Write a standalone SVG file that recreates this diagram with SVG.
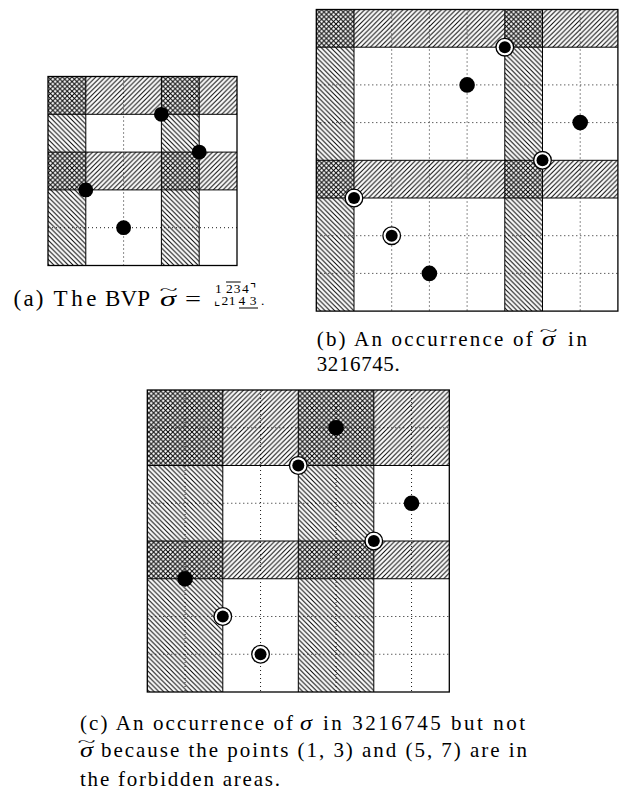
<svg xmlns="http://www.w3.org/2000/svg" width="619" height="796" viewBox="0 0 619 796">
<style>
.bg{fill:#fff}
.dot{stroke:#000;stroke-width:0.9;stroke-dasharray:1 3;fill:none}
.sol{stroke:#000;stroke-width:1;fill:none}
.brd{stroke:#000;stroke-width:1.3;fill:none}
.fw{fill:url(#fw)}
.bk{fill:url(#bk)}
.cap{font-family:"Liberation Serif","DejaVu Serif",serif;fill:#000}
.it{font-style:italic}
.sm{font-size:13.5px}
</style>
<defs>
<pattern id="fw" patternUnits="userSpaceOnUse" width="4.8" height="4.8"><path d="M-1,1 L1,-1 M0,4.8 L4.8,0 M3.8,5.8 L5.8,3.8" stroke="#000" stroke-width="1"/></pattern>
<pattern id="bk" patternUnits="userSpaceOnUse" width="4.8" height="4.8"><path d="M-1,3.8 L1,5.8 M0,0 L4.8,4.8 M3.8,-1 L5.8,1" stroke="#000" stroke-width="1"/></pattern>
<g id="p"><circle r="7.8" fill="#000"/></g>
<g id="pa"><circle r="7.4" fill="#000"/></g>
<g id="cp"><circle r="8.8" fill="#fff" stroke="#000" stroke-width="1.3"/><circle r="6" fill="#000"/></g>
</defs>
<rect width="619" height="796" fill="#fff"/>

<!-- (a) -->
<g id="fig-a">
<rect class="bg" x="48" y="76.5" width="189" height="189"/>
<path class="dot" d="M123.6,76.5 V265.5 M48,227.7 H237"/>
<rect class="bk" x="48" y="76.5" width="37.8" height="189"/>
<rect class="bk" x="161.4" y="76.5" width="37.8" height="189"/>
<rect class="fw" x="48" y="76.5" width="189" height="37.8"/>
<rect class="fw" x="48" y="152.1" width="189" height="37.8"/>
<path class="sol" d="M85.8,76.5 V265.5 M161.4,76.5 V265.5 M199.2,76.5 V265.5 M48,114.3 H237 M48,152.1 H237 M48,189.9 H237"/>
<rect class="brd" x="48" y="76.5" width="189" height="189"/>
<g id="a-points">
<use href="#pa" x="85.8" y="189.9"/>
<use href="#pa" x="123.6" y="227.7"/>
<use href="#pa" x="161.4" y="114.3"/>
<use href="#pa" x="199.2" y="152.1"/>
</g>
</g>

<!-- (b) -->
<g id="fig-b">
<rect class="bg" x="316.3" y="9.5" width="301.6" height="301.6"/>
<path class="dot" d="M391.7,9.5 V311.1 M429.4,9.5 V311.1 M467.1,9.5 V311.1 M580.2,9.5 V311.1 M316.3,273.4 H617.9 M316.3,235.7 H617.9 M316.3,122.6 H617.9 M316.3,84.9 H617.9"/>
<rect class="bk" x="316.3" y="9.5" width="37.7" height="301.6"/>
<rect class="bk" x="504.8" y="9.5" width="37.7" height="301.6"/>
<rect class="fw" x="316.3" y="9.5" width="301.6" height="37.7"/>
<rect class="fw" x="316.3" y="160.3" width="301.6" height="37.7"/>
<path class="sol" d="M354,9.5 V311.1 M504.8,9.5 V311.1 M542.5,9.5 V311.1 M316.3,47.2 H617.9 M316.3,160.3 H617.9 M316.3,198 H617.9"/>
<rect class="brd" x="316.3" y="9.5" width="301.6" height="301.6"/>
<g id="b-points">
<use href="#cp" x="354" y="198"/>
<use href="#cp" x="391.7" y="235.7"/>
<use href="#p" x="429.4" y="273.4"/>
<use href="#p" x="467.1" y="84.9"/>
<use href="#cp" x="504.8" y="47.2"/>
<use href="#cp" x="542.5" y="160.3"/>
<use href="#p" x="580.2" y="122.6"/>
</g>
</g>

<!-- (c) -->
<g id="fig-c">
<rect class="bg" x="147.3" y="390" width="302" height="302"/>
<path class="dot" d="M185.05,390 V692 M260.55,390 V692 M336.05,390 V692 M411.55,390 V692 M147.3,654.25 H449.3 M147.3,616.5 H449.3 M147.3,503.25 H449.3 M147.3,427.75 H449.3"/>
<rect class="bk" x="147.3" y="390" width="75.5" height="302"/>
<rect class="bk" x="298.3" y="390" width="75.5" height="302"/>
<rect class="fw" x="147.3" y="390" width="302" height="75.5"/>
<rect class="fw" x="147.3" y="541" width="302" height="37.75"/>
<path class="sol" d="M222.8,390 V692 M298.3,390 V692 M373.8,390 V692 M147.3,465.5 H449.3 M147.3,541 H449.3 M147.3,578.75 H449.3"/>
<rect class="brd" x="147.3" y="390" width="302" height="302"/>
<g id="c-points">
<use href="#p" x="185.05" y="578.75"/>
<use href="#cp" x="222.8" y="616.5"/>
<use href="#cp" x="260.55" y="654.25"/>
<use href="#cp" x="298.3" y="465.5"/>
<use href="#p" x="336.05" y="427.75"/>
<use href="#cp" x="373.8" y="541"/>
<use href="#p" x="411.55" y="503.25"/>
</g>
</g>

<!-- captions -->
<g id="cap-a" class="cap" font-size="23">
<text x="13.5" y="305.5" textLength="30" lengthAdjust="spacing">(a)</text>
<text x="53.5" y="305.5" textLength="43" lengthAdjust="spacing">The</text>
<text x="105" y="305.5" textLength="45" lengthAdjust="spacing">BVP</text>
<text class="it" x="160" y="305.5" textLength="16" lengthAdjust="spacingAndGlyphs" font-size="22">σ</text>
<text transform="translate(168.5,294) scale(1.6,0.6)" text-anchor="middle" font-size="21">~</text>
<text x="185" y="305.5" textLength="16" lengthAdjust="spacingAndGlyphs" font-size="22">=</text>
<g class="sm">
<text x="215" y="293">1</text>
<text x="226" y="293" textLength="14.5">23</text>
<text x="242" y="293">4</text>
<text x="250" y="293" font-family="DejaVu Sans">⌝</text>
<text x="214" y="305" font-family="DejaVu Sans">⌞</text>
<text x="221.5" y="305" textLength="14">21</text>
<text x="238.5" y="305" textLength="18">43</text>
<text x="261" y="305">.</text>
</g>
<path class="sol" d="M226,282 H240.7 M239,308 H258"/>
</g>

<g id="cap-b" class="cap" font-size="21">
<text x="316.7" y="346" textLength="216" lengthAdjust="spacing">(b) An occurrence of</text>
<text class="it" x="542" y="346" textLength="13" lengthAdjust="spacingAndGlyphs">σ</text>
<text transform="translate(548.5,334.5) scale(1.6,0.6)" text-anchor="middle">~</text>
<text x="568" y="346" textLength="19" lengthAdjust="spacing">in</text>
<text x="316.7" y="371" textLength="83" lengthAdjust="spacing">3216745.</text>
</g>

<g id="cap-c" class="cap" font-size="21">
<text x="80" y="729.5" textLength="213" lengthAdjust="spacing">(c) An occurrence of</text>
<text class="it" x="300" y="729.5" textLength="12" lengthAdjust="spacingAndGlyphs">σ</text>
<text x="323" y="729.5" textLength="202" lengthAdjust="spacing">in 3216745 but not</text>
<text class="it" x="80" y="757" textLength="13" lengthAdjust="spacingAndGlyphs">σ</text>
<text transform="translate(86.5,745.5) scale(1.6,0.6)" text-anchor="middle">~</text>
<text x="101" y="757" textLength="426" lengthAdjust="spacing">because the points (1, 3) and (5, 7) are in</text>
<text x="80" y="786" textLength="200" lengthAdjust="spacing">the forbidden areas.</text>
</g>
</svg>
